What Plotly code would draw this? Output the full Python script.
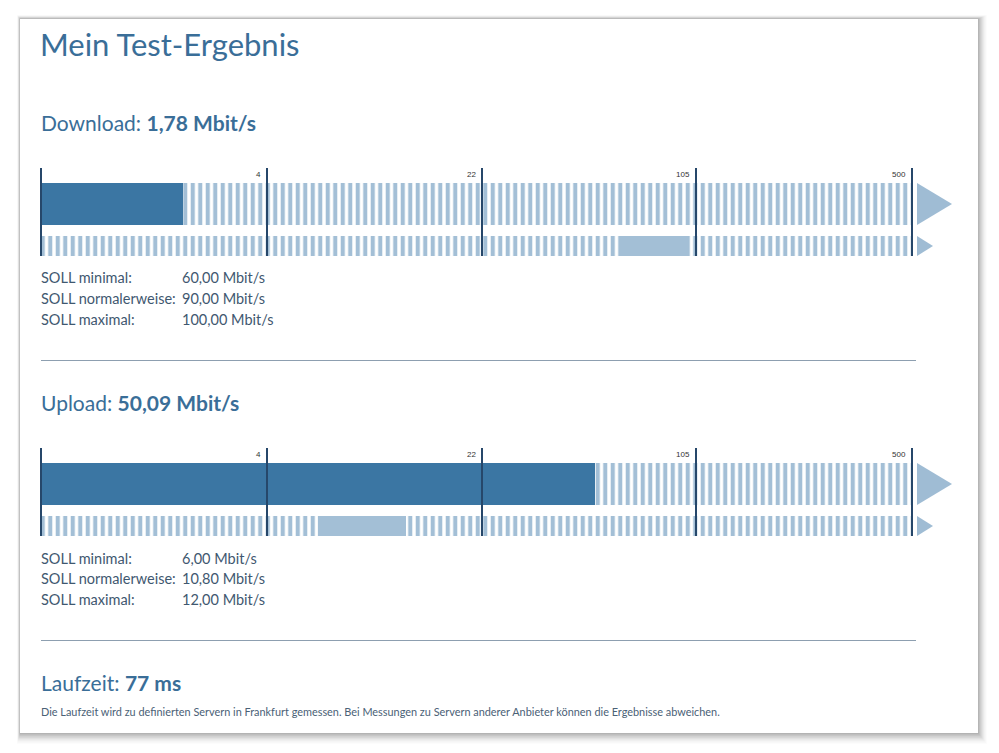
import math
import plotly.graph_objects as go

# ---------------- data ----------------
TITLE = "Mein Test-Ergebnis"
METER_NAMES = ["Download", "Upload"]
MEASURED = [1.78, 50.09]                 # Mbit/s
MEASURED_TXT = ["1,78 Mbit/s", "50,09 Mbit/s"]
SOLL_MIN = [60.0, 6.0]
SOLL_NORMAL = [90.0, 10.8]
SOLL_MAX = [100.0, 12.0]
SOLL_LABELS = ["SOLL minimal:", "SOLL normalerweise:", "SOLL maximal:"]
SOLL_TXT = [["60,00 Mbit/s", "90,00 Mbit/s", "100,00 Mbit/s"],
            ["6,00 Mbit/s", "10,80 Mbit/s", "12,00 Mbit/s"]]
SCALE_TICKS = [4, 22, 105, 500]
LATENCY_TXT = "77 ms"
FOOTNOTE = ("Die Laufzeit wird zu definierten Servern in Frankfurt gemessen. "
            "Bei Messungen zu Servern anderer Anbieter können die Ergebnisse abweichen.")

# ---------------- scale (piecewise log segments) ----------------
SCALE_FLOOR = 0.45
SEG_PX = [0, 226, 441, 655, 871]


def pos(v):
    bounds = [SCALE_FLOOR] + SCALE_TICKS
    v = max(min(v, bounds[-1]), bounds[0])
    for k in range(len(bounds) - 1):
        lo, hi = bounds[k], bounds[k + 1]
        if v <= hi:
            f = math.log(v / lo) / math.log(hi / lo)
            return SEG_PX[k] + f * (SEG_PX[k + 1] - SEG_PX[k])
    return SEG_PX[-1]


# ---------------- styling ----------------
OX, OY = 8, 8                 # page body margin
W, H = 999 - OX, 753 - OY     # figure size
FONT = "Lato, 'Open Sans', sans-serif"
HEAD = "#3a6e98"
TEXT = "#3f5870"
DARK = "#3b76a3"
STRIPE = "#a3bfd6"
LINE = "#26476a"
SEP = "#8d9fb0"


def px(x):
    return (x - OX) / W


def py(y):
    return 1 - (y - OY) / H


fig = go.Figure()
shapes = []
ann = []

# card with shadow
for d in range(10, 0, -1):
    op = 0.06 - 0.005 * d
    shapes.append(dict(type="rect", xref="paper", yref="paper", layer="below",
                       x0=px(20 - d * 0.3), x1=px(978 + d * 0.9), y0=py(733 + d * 1.1),
                       y1=py(19 - d * 0.4),
                       fillcolor=f"rgba(0,0,0,{op:.3f})", line=dict(width=0)))
shapes.append(dict(type="rect", xref="paper", yref="paper", layer="below",
                   x0=px(20), x1=px(978), y0=py(733), y1=py(19),
                   fillcolor="white", line=dict(width=0)))

ann.append(dict(text=TITLE, x=px(38), y=py(44), xref="paper", yref="paper",
                xanchor="left", yanchor="middle", showarrow=False,
                font=dict(family=FONT, size=31, color=HEAD)))

BLOCK_OFF = [0, 280]
ROW1_C, ROW1_W = 39, 42
ROW2_C, ROW2_W = 81, 20

for m in range(2):
    off = BLOCK_OFF[m]
    xa = "x" if m == 0 else "x2"
    ya = "y" if m == 0 else "y2"
    xl = "xaxis" if m == 0 else "xaxis2"
    yl = "yaxis" if m == 0 else "yaxis2"
    top_px = 163 + off
    bot_px = 258 + off
    fig.update_layout({
        xl: dict(domain=[px(39), px(956)], range=[-2, 915], visible=False, fixedrange=True,
                 anchor=ya),
        yl: dict(domain=[py(bot_px), py(top_px)], range=[93, -2], visible=False, fixedrange=True,
                 anchor=xa),
    })

    pattern = dict(shape="|", size=7.5, solidity=0.55, fgcolor=STRIPE, bgcolor="white",
                   fillmode="replace")
    # striped background rows
    for yc, wd in [(ROW1_C, ROW1_W), (ROW2_C, ROW2_W)]:
        fig.add_trace(go.Bar(orientation="h", x=[SEG_PX[-1]], base=[0], y=[yc], width=[wd],
                             marker=dict(color="white", pattern=pattern, line=dict(width=0)),
                             xaxis=xa, yaxis=ya, hoverinfo="skip", showlegend=False))
    # measured bar
    fig.add_trace(go.Bar(orientation="h", x=[pos(MEASURED[m])], base=[0], y=[ROW1_C], width=[ROW1_W],
                         marker=dict(color=DARK, line=dict(width=0)),
                         xaxis=xa, yaxis=ya, hoverinfo="skip", showlegend=False))
    # SOLL range bar
    b0 = pos(SOLL_MIN[m])
    b1 = pos(SOLL_MAX[m])
    fig.add_trace(go.Bar(orientation="h", x=[b1 - b0], base=[b0], y=[ROW2_C], width=[ROW2_W],
                         marker=dict(color=STRIPE, line=dict(width=0)),
                         xaxis=xa, yaxis=ya, hoverinfo="skip", showlegend=False))

    # segment boundary lines
    for sx in SEG_PX:
        shapes.append(dict(type="line", xref=xa, yref=ya, x0=sx, x1=sx, y0=3, y1=91,
                           line=dict(color=LINE, width=2)))
    # tick labels
    for t in SCALE_TICKS:
        ann.append(dict(text=str(t), x=pos(t) - 4, y=9, xref=xa, yref=ya, xanchor="right",
                        yanchor="middle", showarrow=False,
                        font=dict(family="Liberation Sans, Arial", size=8, color="#333")))
    # arrows
    e = SEG_PX[-1]
    shapes.append(dict(type="path", xref=xa, yref=ya,
                       path=f"M{e+5},{ROW1_C-ROW1_W/2} L{e+40},{ROW1_C} L{e+5},{ROW1_C+ROW1_W/2} Z",
                       fillcolor="#9fbcd4", line=dict(width=0)))
    shapes.append(dict(type="path", xref=xa, yref=ya,
                       path=f"M{e+5},{ROW2_C-ROW2_W/2} L{e+21},{ROW2_C} L{e+5},{ROW2_C+ROW2_W/2} Z",
                       fillcolor="#9fbcd4", line=dict(width=0)))

    # heading
    ann.append(dict(text=f"{METER_NAMES[m]}: <b>{MEASURED_TXT[m]}</b>", x=px(39), y=py(122 + off),
                    xref="paper", yref="paper", xanchor="left", yanchor="middle", showarrow=False,
                    font=dict(family=FONT, size=21, color=HEAD)))
    # SOLL table
    for i, (lab, val) in enumerate(zip(SOLL_LABELS, SOLL_TXT[m])):
        yy = 278 + i * 20.5 + off
        ann.append(dict(text=lab, x=px(39), y=py(yy), xref="paper", yref="paper",
                        xanchor="left", yanchor="middle", showarrow=False,
                        font=dict(family=FONT, size=14.5, color=TEXT)))
        ann.append(dict(text=val, x=px(180), y=py(yy), xref="paper", yref="paper",
                        xanchor="left", yanchor="middle", showarrow=False,
                        font=dict(family=FONT, size=14.5, color=TEXT)))
    # separator
    shapes.append(dict(type="line", xref="paper", yref="paper", x0=px(41), x1=px(916),
                       y0=py(360.5 + off), y1=py(360.5 + off), line=dict(color=SEP, width=1)))

ann.append(dict(text=f"Laufzeit: <b>{LATENCY_TXT}</b>", x=px(39), y=py(682), xref="paper", yref="paper",
                xanchor="left", yanchor="middle", showarrow=False,
                font=dict(family=FONT, size=21, color=HEAD)))
ann.append(dict(text=FOOTNOTE, x=px(39), y=py(711), xref="paper", yref="paper",
                xanchor="left", yanchor="middle", showarrow=False,
                font=dict(family=FONT, size=10.9, color="#4a6176")))

fig.update_layout(width=W, height=H, margin=dict(l=0, r=0, t=0, b=0),
                  paper_bgcolor="white", plot_bgcolor="rgba(0,0,0,0)",
                  barmode="overlay", bargap=0, showlegend=False,
                  shapes=shapes, annotations=ann)

fig.write_html("out.html")
